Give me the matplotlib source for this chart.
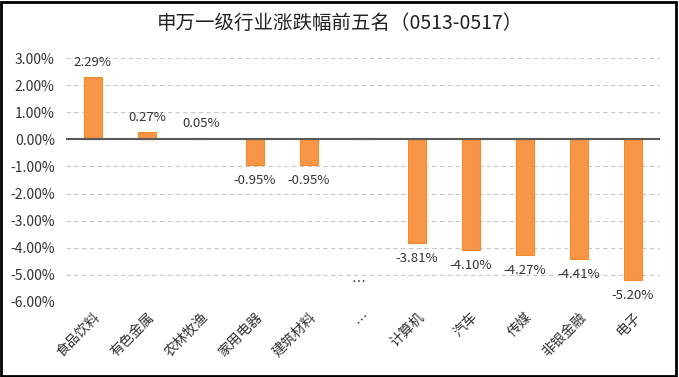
import matplotlib
matplotlib.use("Agg")
import matplotlib.pyplot as plt
from matplotlib.patches import Rectangle
from matplotlib.ticker import FuncFormatter, MultipleLocator

plt.rcParams['font.family'] = ['Noto Sans CJK SC', 'DejaVu Sans']

title = "申万一级行业涨跌幅前五名（0513-0517）"
categories = ["食品饮料", "有色金属", "农林牧渔", "家用电器", "建筑材料", "…",
              "计算机", "汽车", "传媒", "非银金融", "电子"]
values = [2.29, 0.27, 0.05, -0.95, -0.95, None, -3.81, -4.10, -4.27, -4.41, -5.20]
y_ticks = [3, 2, 1, 0, -1, -2, -3, -4, -5, -6]
ellipsis_label_y = -5.3

fig = plt.figure(figsize=(6.79, 3.77), dpi=100)
ax = fig.add_axes([0.097, 0.199, 0.875, 0.647])

x = list(range(len(categories)))
bar_vals = [v if v is not None else 0 for v in values]
bars = ax.bar(x, bar_vals, width=0.32, color="#F79646", edgecolor="#F58A2E", linewidth=0.8, zorder=3)

for xi, v in zip(x, values):
    if v is None:
        ax.text(xi - 0.08, ellipsis_label_y, "…", ha="center", va="center", fontsize=10, color="#333333")
        continue
    lab = f"{v:.2f}%"
    if v >= 0:
        ax.text(xi, v + 0.3, lab, ha="center", va="bottom", fontsize=9.5, color="#333333")
    else:
        ax.text(xi, v - 0.33, lab, ha="center", va="top", fontsize=9.5, color="#333333")

ax.set_xlim(-0.5, len(categories) - 0.5)
ax.set_ylim(-6, 3)
ax.set_yticks(y_ticks)
ax.yaxis.set_major_formatter(FuncFormatter(lambda v, p: f"{v:.2f}%"))
ax.grid(axis="y", linestyle=(0, (4, 3)), color="#C8C8C8", linewidth=0.8, zorder=0)
ax.axhline(0, color="#595959", linewidth=1.5, zorder=4)
for s in ax.spines.values():
    s.set_visible(False)
ax.tick_params(axis="both", length=0, labelsize=10, colors="#333333")
ax.tick_params(axis="y", pad=8)
ax.set_xticks(x)
ax.set_xticklabels(categories, rotation=45, ha="right", va="top", rotation_mode="anchor", fontsize=10)
ax.tick_params(axis="x", pad=6)

fig.text(0.5, 0.938, title, ha="center", va="center", fontsize=14, fontweight="medium", color="#222222")
fig.patches.append(Rectangle((0.002, 0.003), 0.994, 0.992, transform=fig.transFigure,
                             fill=False, edgecolor="black", linewidth=2))

fig.savefig("out.png", dpi=100)
